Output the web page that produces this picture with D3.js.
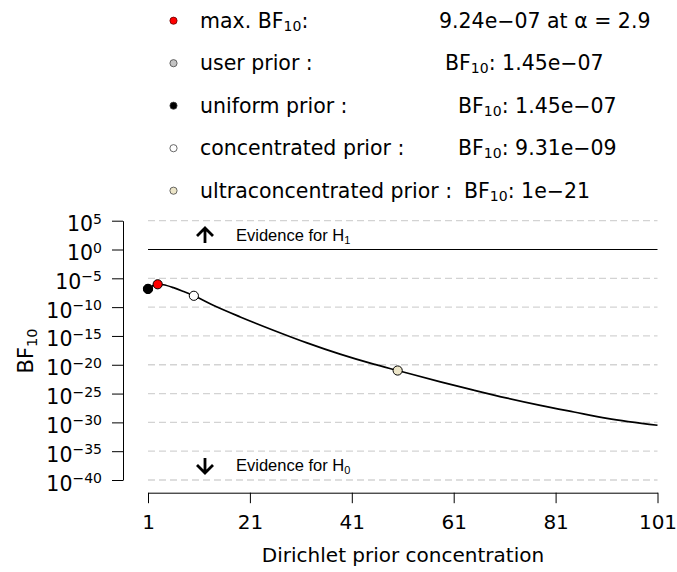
<!DOCTYPE html>
<html>
<head>
<meta charset="utf-8">
<script src="https://cdn.jsdelivr.net/npm/d3@7"></script>
<style>
  html, body { margin: 0; padding: 0; background: #fff; }
  svg { display: block; }
</style>
</head>
<body>
<svg id="chart" width="677" height="572"></svg>
<script>
// ---------------- data ----------------
// Bayes factor curve (log10 BF10) against Dirichlet prior concentration alpha
const curveAlpha = [1, 2, 2.9, 4, 6, 8, 10, 13.8, 19.1, 25.6, 32.2, 38.7, 45.3, 50, 58.4, 64.9, 71.5, 78, 84.6, 91.1, 101];
const curveLog10BF = [-6.84, -6.25, -6.03, -6.12, -6.62, -7.3, -8.03, -9.68, -11.7, -14.0, -16.2, -18.16, -19.9, -21.0, -22.96, -24.4, -25.8, -27.05, -28.2, -29.3, -30.5];

// highlighted points (legend order)
const pointNames = ["max. BF", "user prior :", "uniform prior :", "concentrated prior :", "ultraconcentrated prior :"];
const pointAlpha = [2.9, 1, 1, 10, 50];
const pointBF = [9.24e-7, 1.45e-7, 1.45e-7, 9.31e-9, 1e-21];
const pointBFText = ["9.24e\u221207", "1.45e\u221207", "1.45e\u221207", "9.31e\u221209", "1e\u221221"];
const pointFill = ["#ff0000", "#c4c4c4", "#000000", "#ffffff", "#ece5c8"];
const drawOrder = [1, 2, 3, 4, 0];

// axes ticks
const xTicks = [1, 21, 41, 61, 81, 101];
const yTickExponents = [5, 0, -5, -10, -15, -20, -25, -30, -35, -40];

// ---------------- layout ----------------
const svg = d3.select("#chart");
const FONT = "DejaVu Sans, sans-serif";
const x = d3.scaleLinear().domain([1, 101]).range([148, 657.5]);
const y = d3.scaleLinear().domain([-40, 5]).range([480, 220.7]);

// grid (dashed) lines
svg.append("g").selectAll("line")
  .data(yTickExponents.filter(e => e !== 0))
  .join("line")
  .attr("x1", x(1)).attr("x2", x(101))
  .attr("y1", d => y(d)).attr("y2", d => y(d))
  .attr("stroke", "#d3d3d3").attr("stroke-width", 1.3)
  .attr("stroke-dasharray", "7,4");

// solid line at BF = 1
svg.append("line")
  .attr("x1", x(1)).attr("x2", x(101))
  .attr("y1", y(0)).attr("y2", y(0))
  .attr("stroke", "#000").attr("stroke-width", 1.2);

// evidence annotations
function arrow(cx, cy, up) {
  const s = up ? 1 : -1;
  svg.append("path")
    .attr("d", `M${cx},${cy + 7.5 * s} L${cx},${cy - 7 * s} M${cx - 8},${cy + 0.5 * s} L${cx},${cy - 7.5 * s} L${cx + 8},${cy + 0.5 * s}`)
    .attr("fill", "none").attr("stroke", "#000").attr("stroke-width", 2.8)
    .attr("stroke-linejoin", "miter");
}
arrow(205, 235.5, true);
arrow(205, 465.5, false);

function evidence(yy, sub) {
  const t = svg.append("text")
    .attr("x", 236).attr("y", yy)
    .attr("font-family", "Liberation Sans, Arial, sans-serif")
    .attr("font-size", 16.5).attr("fill", "#000");
  t.append("tspan").text("Evidence for H");
  t.append("tspan").attr("font-size", 11).attr("dy", 3).text(sub);
}
evidence(241, "1");
evidence(471, "0");

// curve
const line = d3.line()
  .x((d, i) => x(curveAlpha[i]))
  .y(d => y(d))
  .curve(d3.curveMonotoneX);
svg.append("path")
  .datum(curveLog10BF)
  .attr("d", line)
  .attr("fill", "none").attr("stroke", "#000").attr("stroke-width", 1.7);

// points
svg.append("g").selectAll("circle")
  .data(drawOrder)
  .join("circle")
  .attr("cx", i => x(pointAlpha[i]))
  .attr("cy", i => y(Math.log10(pointBF[i])))
  .attr("r", 4.6)
  .attr("fill", i => pointFill[i])
  .attr("stroke", "#000").attr("stroke-width", 1);

// y axis
const yAxis = d3.axisLeft(y).tickValues(yTickExponents).tickSize(11).tickSizeOuter(0).tickPadding(10).tickFormat("");
const gy = svg.append("g").attr("transform", "translate(123,0)").call(yAxis);
gy.select(".domain").attr("stroke", "#000");
gy.selectAll(".tick line").attr("stroke", "#000");
gy.selectAll(".tick text").remove();
gy.selectAll(".tick").each(function(d) {
  const t = d3.select(this).append("text")
    .attr("x", -21).attr("y", 10).attr("text-anchor", "end")
    .attr("font-family", FONT).attr("font-size", 20.5).attr("fill", "#000");
  t.append("tspan").text("10");
  t.append("tspan").attr("font-size", 14).attr("dy", -7.5)
    .text(d < 0 ? "\u2212" + Math.abs(d) : String(d));
});

// x axis
const xAxis = d3.axisBottom(x).tickValues(xTicks).tickSize(10.5).tickSizeOuter(0).tickPadding(12);
const gx = svg.append("g").attr("transform", "translate(0,492.7)").call(xAxis);
gx.select(".domain").attr("stroke", "#000");
gx.selectAll(".tick line").attr("stroke", "#000");
gx.selectAll(".tick text").attr("font-family", FONT).attr("font-size", 20).attr("fill", "#000");

// axis titles
svg.append("text")
  .attr("x", 403).attr("y", 562)
  .attr("text-anchor", "middle")
  .attr("font-family", FONT).attr("font-size", 20).attr("fill", "#000")
  .text("Dirichlet prior concentration");

const yl = svg.append("text")
  .attr("transform", "translate(33,351) rotate(-90)")
  .attr("text-anchor", "middle")
  .attr("font-family", FONT).attr("font-size", 21).attr("fill", "#000");
yl.append("tspan").text("BF");
yl.append("tspan").attr("font-size", 14.5).attr("dy", 4).text("10");

// legend
const legendY0 = 20.7, legendDY = 42.5;
const valueX = [439, 445, 458, 458, 464];
const lg = svg.append("g");
pointNames.forEach((name, i) => {
  const cy = legendY0 + i * legendDY;
  lg.append("circle")
    .attr("cx", 173.5).attr("cy", cy).attr("r", 3.6)
    .attr("fill", pointFill[i])
    .attr("stroke", i === 0 ? "#600" : "#444").attr("stroke-width", 0.8);
  const t = lg.append("text")
    .attr("x", 200).attr("y", cy + 7.2)
    .attr("font-family", FONT).attr("font-size", 20.5).attr("fill", "#000");
  if (i === 0) {
    t.append("tspan").text(name);
    t.append("tspan").attr("font-size", 14).attr("dy", 3).text("10");
    t.append("tspan").attr("dy", -3).text(":");
  } else {
    t.append("tspan").text(name);
  }
  const v = lg.append("text")
    .attr("x", valueX[i]).attr("y", cy + 7.2)
    .attr("font-family", FONT).attr("font-size", 20.5).attr("fill", "#000");
  if (i === 0) {
    v.append("tspan").text(pointBFText[i] + " at \u03b1 = " + pointAlpha[i]);
  } else {
    v.append("tspan").text("BF");
    v.append("tspan").attr("font-size", 14).attr("dy", 3).text("10");
    v.append("tspan").attr("dy", -3).text(": " + pointBFText[i]);
  }
});
</script>
</body>
</html>
